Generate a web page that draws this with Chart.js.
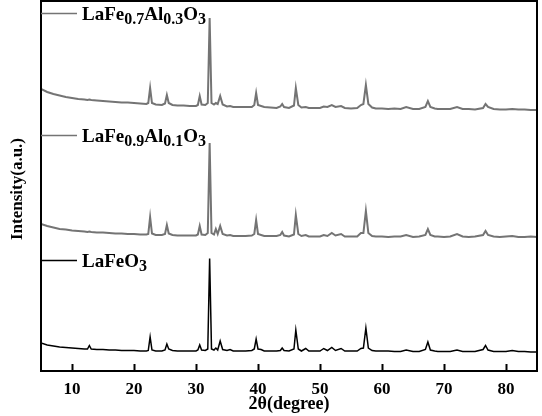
<!DOCTYPE html>
<html>
<head>
<meta charset="utf-8">
<title>XRD LaFe1-xAlxO3</title>
<script src="https://cdn.jsdelivr.net/npm/chart.js@4.4.0/dist/chart.umd.min.js"></script>
<style>
  html, body { margin: 0; padding: 0; background: #fff; }
  #wrap { width: 542px; height: 416px; }
</style>
</head>
<body>
<div id="wrap"><canvas id="xrd" width="542" height="416"></canvas></div>
<script>
// ── data (2θ grid shared by all three patterns) ──
var twoTheta = [
  5, 6, 7, 8, 9, 10, 11, 12, 12.5, 12.8,
  13.1, 14, 15, 16, 17, 18, 19, 20, 21, 22,
  22.3, 22.6, 22.9, 23.5, 24.5, 25.0, 25.3, 25.6, 26.2, 27,
  28, 29, 30, 30.3, 30.6, 30.9, 31.5, 31.9, 32.2, 32.5,
  32.9, 33.2, 33.5, 33.9, 34.3, 35, 35.5, 36, 37, 38,
  39, 39.4, 39.7, 40.0, 40.5, 41, 42, 43, 43.6, 43.9,
  44.2, 45, 45.8, 46.1, 46.5, 47, 47.7, 48.2, 49, 50,
  50.6, 51.2, 51.9, 52.5, 53.4, 54, 55, 56, 56.6, 57.0,
  57.4, 57.8, 58.4, 59, 60, 61, 62, 63, 63.9, 65,
  66, 67.0, 67.4, 67.8, 68.5, 69, 70, 71, 72.1, 73,
  74, 75, 76.3, 76.7, 77.1, 78, 79, 80, 81, 82,
  83, 84, 85
];

// LaFeO3 (bottom, black)
var intLaFeO3 = [
  28, 26, 25, 24, 23.5, 23, 22.5, 22, 22, 25.5,
  22, 21.5, 21.5, 21, 21, 20.5, 20.5, 20.5, 20, 20,
  20.5, 34, 21, 20, 20, 21, 27, 22, 20.5, 20,
  20, 20, 20, 21, 26, 21, 20.5, 22, 112.5, 22,
  21, 23, 21, 30, 21.5, 20.5, 21.5, 20, 20, 20,
  20.5, 22, 32, 22, 21.5, 20, 20, 20, 20.5, 23,
  20.5, 20, 22, 41, 22, 20, 22.5, 20, 20, 20,
  22.5, 20.5, 23.5, 20.5, 22.5, 20, 20, 20, 22.5, 23,
  43, 23, 20.5, 20, 20, 20, 19.5, 19.5, 21, 19.5,
  19.5, 21.5, 29, 21, 20, 19.5, 19.5, 19.5, 21, 19.5,
  19.5, 19.5, 21.5, 25.5, 21, 19.5, 19.5, 19.5, 20.5, 19.5,
  19.5, 19, 19
];

// LaFe0.9Al0.1O3 (middle, grey)
var intAl01 = [
  147, 145, 143.5, 142, 141.5, 140.5, 140, 139.5, 139, 139.5,
  139, 138.5, 138.5, 138, 137.5, 137.5, 137, 137, 136.5, 136.5,
  137, 154, 137.5, 136, 136, 137, 146, 137.5, 136, 135.5,
  135.5, 135.5, 135.5, 136.5, 145, 136.5, 136, 138, 228, 138,
  136.5, 142, 137, 145, 137, 135.5, 136, 135, 135, 135,
  135.5, 137, 151, 137, 136, 135, 135, 135, 136, 139,
  135.5, 134.5, 136.5, 156, 137, 135, 136, 134.5, 134.5, 134.5,
  136, 135, 138, 135.5, 137, 134.5, 134.5, 134.5, 138, 138,
  160, 138, 135, 134.5, 134.5, 134, 134.5, 134.5, 136, 134,
  134.5, 136, 142, 136, 134.5, 134.5, 134, 134.5, 137, 134.5,
  134, 134.5, 136, 140, 136, 134.5, 134, 134.5, 135, 134,
  134, 134.5, 134
];

// LaFe0.7Al0.3O3 (top, grey)
var intAl03 = [
  282, 279, 277, 275.5, 274, 273, 272, 271.5, 271, 271.5,
  271, 270.5, 270, 269.5, 269, 268.5, 268.5, 268, 267.5, 267,
  268, 283, 268, 266.5, 266, 267.5, 276, 268, 266, 265.5,
  265.5, 265, 265, 266, 275, 266.5, 266, 268, 353, 268,
  266.5, 268, 267, 275, 266.5, 264.5, 265, 264, 264, 264,
  264, 266, 278, 266, 265, 264, 263.5, 263, 264.5, 267,
  264, 263, 265.5, 283, 266, 263.5, 264, 263, 263, 263,
  264.5, 264, 266, 264, 265, 263, 262.5, 263, 266, 267,
  286, 267, 263.5, 262.5, 262.5, 262, 262.5, 262, 264, 262,
  262, 264, 270, 264, 262.5, 262, 262, 262, 264, 262,
  262, 261.5, 263, 267, 264, 262, 261.5, 261.5, 262, 261.5,
  261.5, 261, 261
];

var seriesNames = ['LaFeO3', 'LaFe0.9Al0.1O3', 'LaFe0.7Al0.3O3'];
var seriesColors = ['#000000', '#747474', '#747474'];
var labelLevels = [111, 236, 358];   // intensity level where each sample label sits
var xTickValues = [10, 20, 30, 40, 50, 60, 70, 80];
var yTitle = 'Intensity(a.u.)';

var SERIF = "'Liberation Serif', 'DejaVu Serif', serif";

function toPoints(xs, ys) {
    return xs.map(function (v, i) { return { x: v, y: ys[i] }; });
}

// draws "LaFe0.7Al0.3O3" with the numbers as subscripts
function drawFormula(ctx, text, x, y) {
    var parts = text.split(/([0-9.]+)/);
    ctx.fillStyle = '#000';
    ctx.textBaseline = 'alphabetic';
    ctx.textAlign = 'left';
    parts.forEach(function (p, i) {
        if (!p) return;
        var sub = (i % 2 === 1);
        ctx.font = 'bold ' + (sub ? 16 : 19) + 'px ' + SERIF;
        ctx.fillText(p, x, sub ? y + 4 : y);
        x += ctx.measureText(p).width;
    });
}

// ── frame, inward ticks, y title and sample labels ──
var xrdDecor = {
    id: 'xrdDecor',
    afterDatasetsDraw: function (chart) {
        var ctx = chart.ctx;
        var a = chart.chartArea;
        var xs = chart.scales.x, ys = chart.scales.y;
        ctx.save();
        ctx.strokeStyle = '#000';
        ctx.lineWidth = 2;
        ctx.strokeRect(a.left, a.top, a.right - a.left, a.bottom - a.top);
        xs.ticks.forEach(function (t) {
            var px = Math.round(xs.getPixelForValue(t.value)) + 0.5;
            ctx.beginPath();
            ctx.moveTo(px, a.bottom);
            ctx.lineTo(px, a.bottom - 7);
            ctx.stroke();
        });

        // rotated y title
        ctx.save();
        ctx.translate(18, (a.top + a.bottom) / 2 + 3);
        ctx.rotate(-Math.PI / 2);
        ctx.fillStyle = '#000';
        ctx.font = 'bold 17px ' + SERIF;
        ctx.textAlign = 'center';
        ctx.textBaseline = 'middle';
        ctx.fillText(yTitle, 0, 0);
        ctx.restore();

        chart.data.datasets.forEach(function (ds, i) {
            var py = Math.round(ys.getPixelForValue(labelLevels[i])) + 0.5;
            ctx.strokeStyle = ds.borderColor;
            ctx.lineWidth = 1.5;
            ctx.beginPath();
            ctx.moveTo(a.left, py);
            ctx.lineTo(a.left + 36, py);
            ctx.stroke();
            drawFormula(ctx, ds.label, a.left + 41, py + 6.5);
        });
        ctx.restore();
    }
};

new Chart(document.getElementById('xrd'), {
    type: 'line',
    data: {
        datasets: seriesNames.map(function (name, i) {
            var vals = [intLaFeO3, intAl01, intAl03][i];
            return {
                label: name,
                data: toPoints(twoTheta, vals),
                borderColor: seriesColors[i],
                borderWidth: i === 0 ? 1.5 : 2,
                pointRadius: 0,
                tension: 0,
                fill: false
            };
        })
    },
    options: {
        responsive: false,
        animation: false,
        layout: { padding: { top: 1, right: 5, bottom: 1, left: 0 } },
        plugins: {
            legend: { display: false },
            tooltip: { enabled: false }
        },
        scales: {
            x: {
                type: 'linear',
                min: 5,
                max: 85,
                grid: { display: false, drawTicks: false },
                border: { display: false },
                afterBuildTicks: function (scale) {
                    scale.ticks = xTickValues.map(function (v) { return { value: v }; });
                },
                afterFit: function (scale) { scale.height = 44; },
                ticks: {
                    color: '#000',
                    padding: 8,
                    maxRotation: 0,
                    font: { family: SERIF, size: 17, weight: 'bold' }
                },
                title: {
                    display: true,
                    text: '2θ(degree)',
                    color: '#000',
                    padding: { top: 0, bottom: 0 },
                    font: { family: SERIF, size: 18, weight: 'bold' }
                }
            },
            y: {
                min: 0,
                max: 370,
                grid: { display: false, drawTicks: false },
                border: { display: false },
                ticks: { display: false },
                afterFit: function (scale) { scale.width = 41; },
                title: { display: false }
            }
        }
    },
    plugins: [xrdDecor]
});
</script>
</body>
</html>
